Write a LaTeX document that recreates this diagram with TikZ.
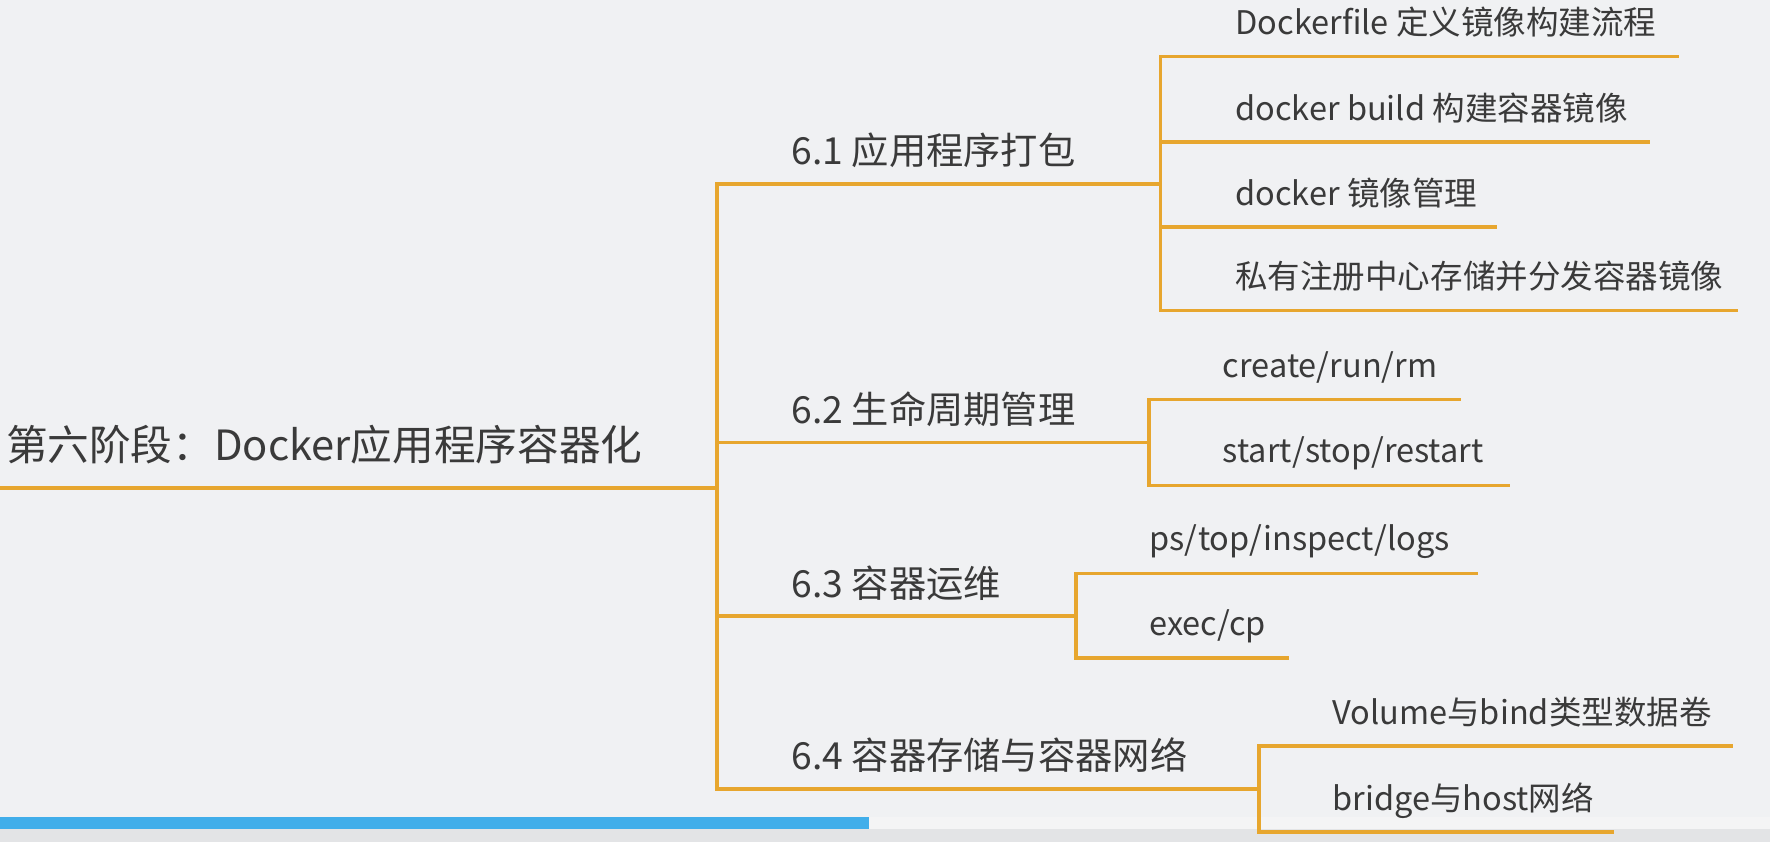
\documentclass[tikz,border=0pt]{standalone}
\usepackage{fontspec}
\setmainfont{Noto Sans CJK SC}

\definecolor{branch}{RGB}{231,166,46}
\definecolor{ink}{RGB}{58,58,58}
\definecolor{paper}{RGB}{240,241,243}
\definecolor{progress}{RGB}{65,174,234}
\definecolor{track}{RGB}{244,244,245}
\definecolor{strip}{RGB}{227,228,230}

\begin{document}
\begin{tikzpicture}[x=0.02cm, y=-0.02cm, branch/.style = {draw=branch, line width=1.9pt}, topic/.style = {anchor=base west, inner sep=0pt, text=ink, font=\fontsize{18.8}{22}\selectfont}, main/.style = {topic, font=\fontsize{21}{25}\selectfont}, leaf/.style = {topic, font=\fontsize{16.4}{19}\selectfont}]

    % page and progress bar
    \useasboundingbox (0,0) rectangle (1568,746);
    \fill[paper] (0,0) rectangle (1568,746);
    \fill[strip] (0,734) rectangle (1568,746);
    \fill[track] (770,724) rectangle (1568,734);
    \fill[progress] (0,724) rectangle (770,734);

    % root
    \node at (5, 408) [main] (stage) {第六阶段：Docker应用程序容器化};
    \coordinate (s_0) at (0, 432);
    \coordinate (j_0) at (635, 432);

    % branch points
    \coordinate (j_1) at (1028, 163);
    \coordinate (j_2) at (1018, 392);
    \coordinate (j_3) at (953, 546);
    \coordinate (j_4) at (1115, 699);

    \node at (701, 146) [topic] (pack) {6.1 应用程序打包};
    \node at (701, 375) [topic] (life) {6.2 生命周期管理};
    \node at (701, 529) [topic] (ops) {6.3 容器运维};
    \node at (701, 682) [topic] (store) {6.4 容器存储与容器网络};

    % leaves
    \node at (1094, 31) [leaf] (p_1) {Dockerfile 定义镜像构建流程};
    \node at (1094, 107) [leaf] (p_2) {docker build 构建容器镜像};
    \node at (1094, 182) [leaf] (p_3) {docker 镜像管理};
    \node at (1094, 256) [leaf] (p_4) {私有注册中心存储并分发容器镜像};
    \node at (1083, 334) [leaf] (l_1) {create/run/rm};
    \node at (1083, 410) [leaf] (l_2) {start/stop/restart};
    \node at (1018, 488) [leaf] (o_1) {ps/top/inspect/logs};
    \node at (1018, 563) [leaf] (o_2) {exec/cp};
    \node at (1180, 642) [leaf] (n_1) {Volume与bind类型数据卷};
    \node at (1180, 718) [leaf] (n_2) {bridge与host网络};

    \coordinate (p_1e) at (1487, 50);
    \coordinate (p_2e) at (1462, 126);
    \coordinate (p_3e) at (1326, 201);
    \coordinate (p_4e) at (1540, 275);
    \coordinate (l_1e) at (1294, 354);
    \coordinate (l_2e) at (1338, 430);
    \coordinate (o_1e) at (1309, 508);
    \coordinate (o_2e) at (1142, 583);
    \coordinate (n_1e) at (1535, 661);
    \coordinate (n_2e) at (1430, 737);

    \draw[branch] (s_0) -- (j_0);
    \draw[branch] (j_0) |- (j_1);
    \draw[branch] (j_0) |- (j_2);
    \draw[branch] (j_0) |- (j_3);
    \draw[branch] (j_0) |- (j_4);
    \draw[branch] (j_1) |- (p_1e);
    \draw[branch] (j_1) |- (p_2e);
    \draw[branch] (j_1) |- (p_3e);
    \draw[branch] (j_1) |- (p_4e);
    \draw[branch] (j_2) |- (l_1e);
    \draw[branch] (j_2) |- (l_2e);
    \draw[branch] (j_3) |- (o_1e);
    \draw[branch] (j_3) |- (o_2e);
    \draw[branch] (j_4) |- (n_1e);
    \draw[branch] (j_4) |- (n_2e);
\end{tikzpicture}
\end{document}
